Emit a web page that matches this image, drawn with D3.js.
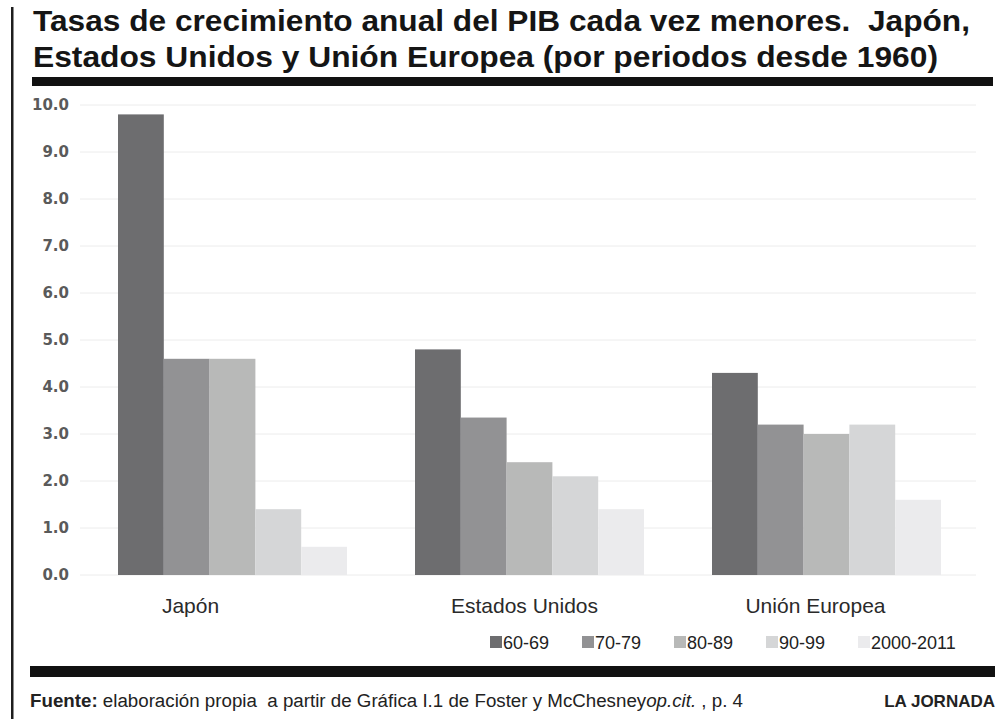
<!DOCTYPE html>
<html>
<head>
<meta charset="utf-8">
<script src="https://cdn.jsdelivr.net/npm/d3@7"></script>
<style>
  body { margin: 0; background: #fff; }
  svg { display: block; }
  text { white-space: pre; }
</style>
</head>
<body>
<div id="chart"></div>
<script>
(function() {

    // data
    const regions = ["Japón", "Estados Unidos", "Unión Europea"];
    const periods = ["60-69", "70-79", "80-89", "90-99", "2000-2011"];
    const japon = [9.8, 4.6, 4.6, 1.4, 0.6];
    const estadosUnidos = [4.8, 3.35, 2.4, 2.1, 1.4];
    const unionEuropea = [4.3, 3.2, 3.0, 3.2, 1.6];
    const yTicks = [0, 1, 2, 3, 4, 5, 6, 7, 8, 9, 10];

    const titleLines = [
        "Tasas de crecimiento anual del PIB cada vez menores.  Japón,",
        "Estados Unidos y Unión Europea (por periodos desde 1960)"
    ];

    const values = [japon, estadosUnidos, unionEuropea];
    const data = regions.map((r, i) => ({region: r, values: periods.map((p, j) => ({period: p, value: values[i][j]}))}));

    const width = 1000;
    const height = 719;

    const svg = d3.select("#chart").append("svg")
        .attr("width", width)
        .attr("height", height);

    // left frame line
    svg.append("rect")
        .attr("x", 11).attr("y", 7)
        .attr("width", 2.5).attr("height", height - 7)
        .attr("fill", "#1e1e1e");

    // title
    svg.append("g").selectAll("text")
        .data(titleLines)
        .join("text")
        .attr("x", 33)
        .attr("y", (d, i) => 31 + i * 36)
        .attr("textLength", (d, i) => i === 0 ? 937 : 905)
        .attr("lengthAdjust", "spacingAndGlyphs")
        .attr("font-family", "Liberation Sans, Arial, sans-serif")
        .attr("font-weight", "bold")
        .attr("font-size", "30px")
        .attr("fill", "#151515")
        .text(d => d);

    // thick rules
    svg.append("rect").attr("x", 32).attr("y", 77).attr("width", 961).attr("height", 9).attr("fill", "#111");
    svg.append("rect").attr("x", 30).attr("y", 666).attr("width", 965).attr("height", 11).attr("fill", "#111");

    const y = d3.scaleLinear()
        .domain([0, 10])
        .range([575, 105]);

    const x0 = d3.scaleBand()
        .domain(regions)
        .range([84, 975])
        .padding(0);

    const groupPad = (x0.bandwidth() - 229) / 2;
    const x1 = d3.scaleBand()
        .domain(periods)
        .range([groupPad, x0.bandwidth() - groupPad])
        .padding(0);

    const color = d3.scaleOrdinal()
        .domain(periods)
        .range(["#6d6d6f", "#929294", "#b8b9b8", "#d5d6d7", "#ebebed"]);

    // gridlines
    svg.append("g")
        .selectAll("line")
        .data(yTicks)
        .join("line")
        .attr("x1", 80).attr("x2", 976)
        .attr("y1", d => y(d)).attr("y2", d => y(d))
        .attr("stroke", "#ececec")
        .attr("stroke-width", 1);

    // y axis labels
    const yAxis = svg.append("g")
        .attr("transform", "translate(69,0)")
        .call(d3.axisLeft(y).tickValues(yTicks).tickFormat(d3.format(".1f")).tickSize(0).tickPadding(0));
    yAxis.select(".domain").remove();
    yAxis.selectAll("text")
        .attr("font-family", "DejaVu Sans, sans-serif")
        .attr("font-size", "15px")
        .attr("font-weight", "bold")
        .attr("fill", "#5a5a5a");

    // bars
    svg.append("g")
        .selectAll("g")
        .data(data)
        .join("g")
        .attr("transform", d => `translate(${x0(d.region)},0)`)
        .selectAll("rect")
        .data(d => d.values)
        .join("rect")
        .attr("x", d => x1(d.period))
        .attr("y", d => y(d.value))
        .attr("width", x1.bandwidth())
        .attr("height", d => y(0) - y(d.value))
        .attr("fill", d => color(d.period));

    // category labels (the original sits them a bit left of the bar groups)
    const labelNudge = [-42, -5, -11];
    svg.append("g")
        .selectAll("text")
        .data(regions)
        .join("text")
        .attr("x", (d, i) => x0(d) + x0.bandwidth() / 2 + labelNudge[i])
        .attr("y", 613)
        .attr("text-anchor", "middle")
        .attr("font-family", "Liberation Sans, Arial, sans-serif")
        .attr("font-size", "21px")
        .attr("fill", "#2a2a2a")
        .text(d => d);

    // legend
    const legend = svg.append("g")
        .selectAll("g")
        .data(periods)
        .join("g")
        .attr("transform", (d, i) => `translate(${490 + i * 92},642)`);
    legend.append("rect")
        .attr("x", 0).attr("y", -6)
        .attr("width", 12).attr("height", 12)
        .attr("fill", d => color(d));
    legend.append("text")
        .attr("x", 13)
        .attr("y", 6.5)
        .attr("font-family", "Liberation Sans, Arial, sans-serif")
        .attr("font-size", "18px")
        .attr("fill", "#222")
        .text(d => d);

    // footer
    const foot = svg.append("text")
        .attr("x", 30)
        .attr("y", 707)
        .attr("textLength", 713)
        .attr("lengthAdjust", "spacingAndGlyphs")
        .attr("font-family", "Liberation Sans, Arial, sans-serif")
        .attr("font-size", "18px")
        .attr("fill", "#222");
    foot.append("tspan").attr("font-weight", "bold").text("Fuente:");
    foot.append("tspan").text(" elaboración propia  a partir de Gráfica I.1 de Foster y McChesney");
    foot.append("tspan").attr("font-style", "italic").text("op.cit.");
    foot.append("tspan").text(" , p. 4");

    svg.append("text")
        .attr("x", 995)
        .attr("y", 707)
        .attr("text-anchor", "end")
        .attr("font-family", "Liberation Sans, Arial, sans-serif")
        .attr("font-weight", "bold")
        .attr("font-size", "17px")
        .attr("fill", "#222")
        .text("LA JORNADA");

})();
</script>
</body>
</html>
